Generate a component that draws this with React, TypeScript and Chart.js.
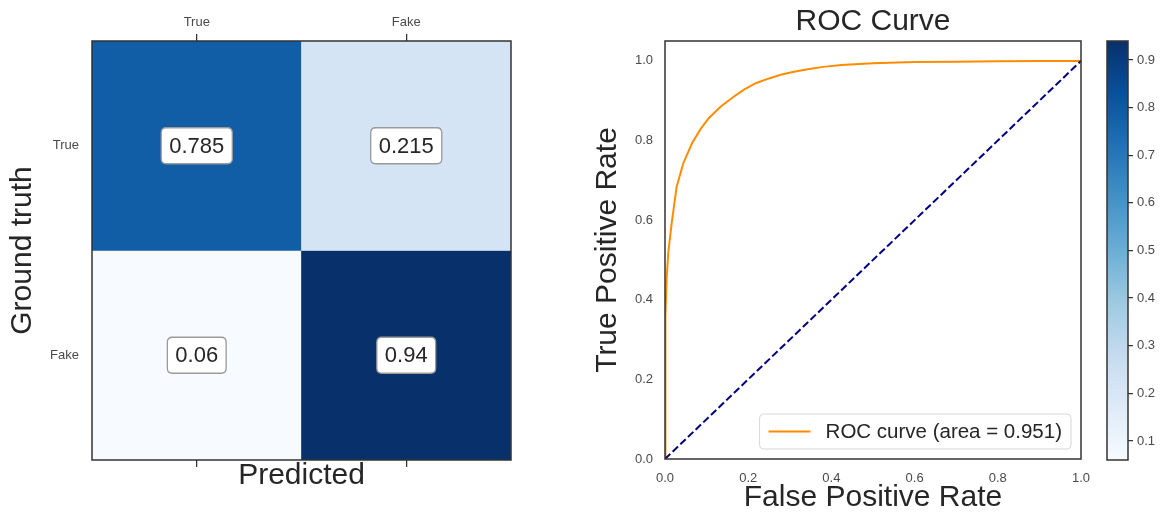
import React, { useEffect, useRef } from "react";
import { Chart, registerables } from "chart.js";

Chart.register(...registerables);

// ---- data ----
const PRED_LABELS = ["True", "Fake"];
const TRUTH_LABELS = ["True", "Fake"];
const CM_ROW_TRUE = [0.785, 0.215];
const CM_ROW_FAKE = [0.06, 0.94];
const CM_VALUES = [CM_ROW_TRUE, CM_ROW_FAKE];

const FPR = [0, 0, 0.002, 0.004, 0.008, 0.016, 0.028, 0.044, 0.065, 0.085, 0.105, 0.135, 0.165, 0.19, 0.218, 0.25, 0.278, 0.31, 0.343, 0.38, 0.424, 0.5, 0.6, 0.7, 0.8, 0.9, 1.0];
const TPR = [0, 0.2, 0.36, 0.455, 0.52, 0.592, 0.684, 0.743, 0.793, 0.828, 0.856, 0.886, 0.91, 0.928, 0.944, 0.956, 0.965, 0.973, 0.979, 0.985, 0.99, 0.994, 0.997, 0.998, 0.999, 1.0, 1.0];
const ROC_AUC = 0.951;
const CHANCE_X = [0, 1];
const CHANCE_Y = [0, 1];
const ROC_TICKS = [0, 0.2, 0.4, 0.6, 0.8, 1.0];
const CB_TICKS = [0.1, 0.2, 0.3, 0.4, 0.5, 0.6, 0.7, 0.8, 0.9];

// ---- styling helpers ----
const FONT = '"Liberation Sans", Arial, Helvetica, sans-serif';
const TEXT = "#262626";
const TICK_TEXT = "#4a4a4a";
const FRAME = "#333";
const LABEL_SIZE = 30;
const TICK_SIZE = 13;
const BLUES = ["#f7fbff", "#deebf7", "#c6dbef", "#9ecae1", "#6baed6", "#4292c6", "#2171b5", "#08519c", "#08306b"];

const allValues = CM_VALUES.flat();
const V_MIN = Math.min(...allValues);
const V_MAX = Math.max(...allValues);

function hexRgb(h: string) {
  const n = parseInt(h.slice(1), 16);
  return [(n >> 16) & 255, (n >> 8) & 255, n & 255];
}

function blues(v: number) {
  const t = Math.min(1, Math.max(0, (v - V_MIN) / (V_MAX - V_MIN)));
  const pos = t * (BLUES.length - 1);
  const i = Math.min(BLUES.length - 2, Math.floor(pos));
  const f = pos - i;
  const a = hexRgb(BLUES[i]);
  const b = hexRgb(BLUES[i + 1]);
  const c = a.map((x, k) => Math.round(x + (b[k] - x) * f));
  return `rgb(${c[0]},${c[1]},${c[2]})`;
}

const framePlugin = {
  id: "frame",
  afterDraw(chart: any) {
    const { ctx, chartArea: a } = chart;
    ctx.save();
    ctx.strokeStyle = FRAME;
    ctx.lineWidth = 1.5;
    ctx.strokeRect(a.left, a.top, a.right - a.left, a.bottom - a.top);
    ctx.restore();
  },
};

function roundRect(ctx: CanvasRenderingContext2D, x: number, y: number, w: number, h: number, r: number) {
  ctx.beginPath();
  ctx.moveTo(x + r, y);
  ctx.lineTo(x + w - r, y);
  ctx.quadraticCurveTo(x + w, y, x + w, y + r);
  ctx.lineTo(x + w, y + h - r);
  ctx.quadraticCurveTo(x + w, y + h, x + w - r, y + h);
  ctx.lineTo(x + r, y + h);
  ctx.quadraticCurveTo(x, y + h, x, y + h - r);
  ctx.lineTo(x, y + r);
  ctx.quadraticCurveTo(x, y, x + r, y);
  ctx.closePath();
}

// value labels in each matrix cell
const cellLabelPlugin = {
  id: "cellLabels",
  afterDatasetsDraw(chart: any) {
    const { ctx } = chart;
    ctx.save();
    ctx.font = `22px ${FONT}`;
    ctx.textAlign = "center";
    ctx.textBaseline = "middle";
    CM_VALUES.forEach((row, r) => {
      const meta = chart.getDatasetMeta(r);
      row.forEach((v, c) => {
        const el = meta.data[c];
        const cx = el.x;
        const cy = (el.y + el.base) / 2;
        const text = String(v);
        const w = ctx.measureText(text).width + 16;
        const h = 36;
        roundRect(ctx, cx - w / 2, cy - h / 2, w, h, 5);
        ctx.fillStyle = "#ffffff";
        ctx.fill();
        ctx.strokeStyle = "#9a9a9a";
        ctx.lineWidth = 1.3;
        ctx.stroke();
        ctx.fillStyle = TEXT;
        ctx.fillText(text, cx, cy + 1);
      });
    });
    ctx.restore();
  },
};

// legend box in the lower right corner of the plot area
const rocLegendPlugin = {
  id: "rocLegend",
  afterDatasetsDraw(chart: any) {
    const { ctx, chartArea: a } = chart;
    const ds = chart.data.datasets[0];
    ctx.save();
    ctx.font = `20.5px ${FONT}`;
    const tw = ctx.measureText(ds.label).width;
    const h = 35;
    const w = tw + 75;
    const x = a.right - 10 - w;
    const y = a.bottom - 10 - h;
    roundRect(ctx, x, y, w, h, 4);
    ctx.fillStyle = "rgba(255,255,255,0.85)";
    ctx.fill();
    ctx.strokeStyle = "#d6d6d6";
    ctx.lineWidth = 1;
    ctx.stroke();
    ctx.strokeStyle = ds.borderColor;
    ctx.lineWidth = 2;
    ctx.beginPath();
    ctx.moveTo(x + 9, y + h / 2);
    ctx.lineTo(x + 51, y + h / 2);
    ctx.stroke();
    ctx.fillStyle = TEXT;
    ctx.textBaseline = "middle";
    ctx.textAlign = "left";
    ctx.fillText(ds.label, x + 66, y + h / 2 + 1);
    ctx.restore();
  },
};

function useChart(ref: React.RefObject<HTMLCanvasElement>, make: (c: HTMLCanvasElement) => Chart) {
  useEffect(() => {
    if (!ref.current) return;
    const chart = make(ref.current);
    return () => chart.destroy();
  }, []);
}

const noEdgePadding = (s: any) => {
  s.paddingLeft = 0;
  s.paddingRight = 0;
  s.paddingTop = 0;
  s.paddingBottom = 0;
};

const tickFont = { size: TICK_SIZE, family: FONT };
const labelFont = { size: LABEL_SIZE, family: FONT };

export default function App() {
  const cmRef = useRef<HTMLCanvasElement>(null);
  const rocRef = useRef<HTMLCanvasElement>(null);
  const cbRef = useRef<HTMLCanvasElement>(null);

  useEffect(() => {
    document.body.style.margin = "0";
    Chart.defaults.font.family = FONT;
  }, []);

  // confusion matrix
  useChart(cmRef, (canvas) =>
    new Chart(canvas, {
      type: "bar",
      data: {
        labels: PRED_LABELS,
        datasets: TRUTH_LABELS.map((name, r) => ({
          label: name,
          data: PRED_LABELS.map(() => [r, r + 1]),
          backgroundColor: CM_VALUES[r].map((v) => blues(v)),
          borderWidth: 0,
          barPercentage: 1,
          categoryPercentage: 1,
          grouped: false,
          xAxisID: "x",
          yAxisID: "y",
        })),
      },
      options: {
        responsive: false,
        animation: false,
        events: [],
        layout: { padding: { left: 0, right: 69, top: 0, bottom: 0 } },
        plugins: { legend: { display: false }, tooltip: { enabled: false } },
        scales: {
          x: {
            type: "category",
            position: "top",
            offset: true,
            grid: { display: true, drawOnChartArea: false, drawTicks: true, tickLength: 7, offset: false, color: FRAME, lineWidth: 1.25 },
            border: { display: false },
            ticks: { color: TICK_TEXT, font: tickFont, padding: 4 },
            afterFit: (s: any) => { s.height = 41; noEdgePadding(s); },
          },
          xb: {
            type: "category",
            position: "bottom",
            labels: PRED_LABELS,
            offset: true,
            grid: { display: true, drawOnChartArea: false, drawTicks: true, tickLength: 7, offset: false, color: FRAME, lineWidth: 1.25 },
            border: { display: false },
            ticks: { display: false },
            title: { display: true, text: "Predicted", color: TEXT, font: labelFont, padding: { top: 0, bottom: 22 } },
            afterFit: (s: any) => { s.height = 56; noEdgePadding(s); },
          },
          y: {
            type: "linear",
            position: "left",
            min: 0,
            max: TRUTH_LABELS.length,
            reverse: true,
            grid: { display: false, drawTicks: false },
            border: { display: false },
            afterBuildTicks: (s: any) => { s.ticks = TRUTH_LABELS.map((_, i) => ({ value: i + 0.5 })); },
            ticks: { color: TICK_TEXT, font: tickFont, padding: 13, callback: (_v: any, i: number) => TRUTH_LABELS[i] },
            title: { display: true, text: "Ground truth", color: TEXT, font: labelFont, padding: { top: 5, bottom: 0 } },
            afterFit: (s: any) => { s.width = 92; noEdgePadding(s); },
          },
        },
      },
      plugins: [cellLabelPlugin, framePlugin],
    } as any)
  );

  // ROC curve
  useChart(rocRef, (canvas) =>
    new Chart(canvas, {
      type: "line",
      data: {
        datasets: [
          {
            label: `ROC curve (area = ${ROC_AUC.toFixed(3)})`,
            data: FPR.map((x, i) => ({ x, y: TPR[i] })),
            borderColor: "#ff8c00",
            borderWidth: 2,
            pointRadius: 0,
            tension: 0,
            fill: false,
            order: 2,
          },
          {
            label: "chance",
            data: CHANCE_X.map((x, i) => ({ x, y: CHANCE_Y[i] })),
            borderColor: "#000080",
            borderWidth: 2,
            borderDash: [7.4, 3.2],
            pointRadius: 0,
            fill: false,
            order: 1,
          },
        ],
      },
      options: {
        responsive: false,
        animation: false,
        events: [],
        layout: { padding: { left: 0, right: 9, top: 0, bottom: 0 } },
        plugins: {
          legend: { display: false },
          tooltip: { enabled: false },
          title: {
            display: true,
            text: "ROC Curve",
            color: TEXT,
            fullSize: false,
            font: { size: LABEL_SIZE, family: FONT, weight: "normal" },
            padding: { top: 4, bottom: 1 },
          },
        },
        scales: {
          x: {
            type: "linear",
            min: 0,
            max: 1,
            grid: { display: false, drawTicks: false },
            border: { display: false },
            afterBuildTicks: (s: any) => { s.ticks = ROC_TICKS.map((v) => ({ value: v })); },
            ticks: { color: TICK_TEXT, font: tickFont, padding: 12, callback: (v: any) => Number(v).toFixed(1) },
            title: { display: true, text: "False Positive Rate", color: TEXT, font: labelFont, padding: { top: 0, bottom: 0 } },
            afterFit: (s: any) => { s.height = 57; noEdgePadding(s); },
          },
          y: {
            type: "linear",
            min: 0,
            max: 1.05,
            grid: { display: false, drawTicks: false },
            border: { display: false },
            afterBuildTicks: (s: any) => { s.ticks = ROC_TICKS.map((v) => ({ value: v })); },
            ticks: { color: TICK_TEXT, font: tickFont, padding: 12, callback: (v: any) => Number(v).toFixed(1) },
            title: { display: true, text: "True Positive Rate", color: TEXT, font: labelFont, padding: { top: 10, bottom: 0 } },
            afterFit: (s: any) => { s.width = 85; noEdgePadding(s); },
          },
        },
      },
      plugins: [rocLegendPlugin, framePlugin],
    } as any)
  );

  // colour bar
  useChart(cbRef, (canvas) =>
    new Chart(canvas, {
      type: "bar",
      data: {
        labels: [""],
        datasets: [
          {
            label: "scale",
            data: [[V_MIN, V_MAX]],
            barPercentage: 1,
            categoryPercentage: 1,
            borderWidth: 0,
            backgroundColor: (c: any) => {
              const { chart } = c;
              const ys = chart.scales.y;
              if (!chart.chartArea || !ys) return BLUES[4];
              const y0 = ys.getPixelForValue(V_MIN);
              const y1 = ys.getPixelForValue(V_MAX);
              const g = chart.ctx.createLinearGradient(0, y0, 0, y1);
              BLUES.forEach((col, i) => g.addColorStop(i / (BLUES.length - 1), col));
              return g;
            },
          },
        ],
      },
      options: {
        responsive: false,
        animation: false,
        events: [],
        layout: { padding: { left: 17, right: 0, top: 41, bottom: 56 } },
        plugins: { legend: { display: false }, tooltip: { enabled: false } },
        scales: {
          x: { display: false, offset: true },
          y: {
            type: "linear",
            position: "right",
            min: V_MIN,
            max: V_MAX,
            grid: { display: true, drawOnChartArea: false, drawTicks: true, tickLength: 5, color: FRAME, lineWidth: 1.25 },
            border: { display: false },
            afterBuildTicks: (s: any) => { s.ticks = CB_TICKS.map((v) => ({ value: v })); },
            ticks: { color: TICK_TEXT, font: tickFont, padding: 4, callback: (v: any) => Number(v).toFixed(1) },
            afterFit: (s: any) => { s.width = 33; noEdgePadding(s); },
          },
        },
      },
      plugins: [framePlugin],
    } as any)
  );

  return (
    <div style={{ position: "fixed", left: 0, top: 0, width: 1161, height: 516, background: "#fff" }}>
      <canvas ref={cmRef} width={580} height={516} style={{ position: "absolute", left: 0, top: 0 }} />
      <canvas ref={rocRef} width={510} height={516} style={{ position: "absolute", left: 580, top: 0 }} />
      <canvas ref={cbRef} width={71} height={516} style={{ position: "absolute", left: 1090, top: 0 }} />
    </div>
  );
}
